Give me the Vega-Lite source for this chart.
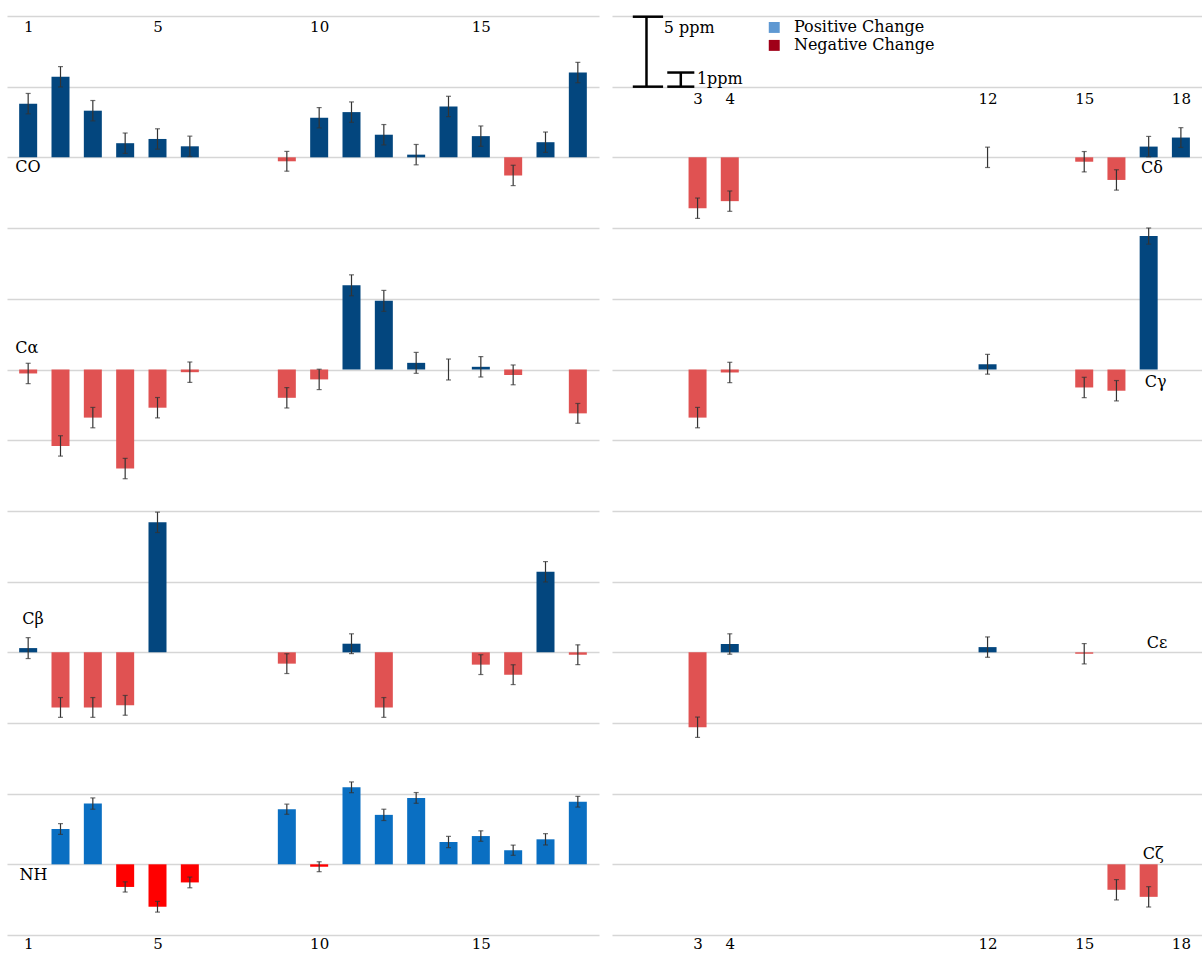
{
  "$schema": "https://vega.github.io/schema/vega-lite/v6.json",
  "background": "white",
  "padding": {"top": 15, "left": 7, "right": 0, "bottom": 0},
  "config": {"view": {"stroke": null}, "font": "DejaVu Serif",
    "axis": {"gridColor": "#d6d6d6", "gridWidth": 1.5, "domain": false, "ticks": false, "tickSize": 0, "labelFont": "DejaVu Serif", "labelFontSize": 15, "labelColor": "#000", "labelFlush": false}},
  "datasets": {
    "one": [{"n": 1}],
    "shifts": [
      {"atom": "CO", "residue": 1, "shift": 3.8, "err": 0.72},
      {"atom": "CO", "residue": 2, "shift": 5.7, "err": 0.72},
      {"atom": "CO", "residue": 3, "shift": 3.3, "err": 0.72},
      {"atom": "CO", "residue": 4, "shift": 1.0, "err": 0.72},
      {"atom": "CO", "residue": 5, "shift": 1.3, "err": 0.72},
      {"atom": "CO", "residue": 6, "shift": 0.78, "err": 0.72},
      {"atom": "CO", "residue": 9, "shift": -0.28, "err": 0.7},
      {"atom": "CO", "residue": 10, "shift": 2.8, "err": 0.72},
      {"atom": "CO", "residue": 11, "shift": 3.2, "err": 0.72},
      {"atom": "CO", "residue": 12, "shift": 1.6, "err": 0.72},
      {"atom": "CO", "residue": 13, "shift": 0.19, "err": 0.72},
      {"atom": "CO", "residue": 14, "shift": 3.6, "err": 0.72},
      {"atom": "CO", "residue": 15, "shift": 1.5, "err": 0.72},
      {"atom": "CO", "residue": 16, "shift": -1.28, "err": 0.72},
      {"atom": "CO", "residue": 17, "shift": 1.07, "err": 0.72},
      {"atom": "CO", "residue": 18, "shift": 6.0, "err": 0.72},
      {"atom": "CA", "residue": 1, "shift": -0.28, "err": 0.72},
      {"atom": "CA", "residue": 2, "shift": -5.4, "err": 0.72},
      {"atom": "CA", "residue": 3, "shift": -3.4, "err": 0.72},
      {"atom": "CA", "residue": 4, "shift": -7.0, "err": 0.72},
      {"atom": "CA", "residue": 5, "shift": -2.7, "err": 0.72},
      {"atom": "CA", "residue": 6, "shift": -0.19, "err": 0.72},
      {"atom": "CA", "residue": 9, "shift": -2.0, "err": 0.72},
      {"atom": "CA", "residue": 10, "shift": -0.7, "err": 0.72},
      {"atom": "CA", "residue": 11, "shift": 5.95, "err": 0.74},
      {"atom": "CA", "residue": 12, "shift": 4.85, "err": 0.74},
      {"atom": "CA", "residue": 13, "shift": 0.47, "err": 0.74},
      {"atom": "CA", "residue": 14, "shift": 0.0, "err": 0.74},
      {"atom": "CA", "residue": 15, "shift": 0.19, "err": 0.72},
      {"atom": "CA", "residue": 16, "shift": -0.38, "err": 0.7},
      {"atom": "CA", "residue": 18, "shift": -3.1, "err": 0.7},
      {"atom": "CB", "residue": 1, "shift": 0.3, "err": 0.74},
      {"atom": "CB", "residue": 2, "shift": -3.9, "err": 0.7},
      {"atom": "CB", "residue": 3, "shift": -3.9, "err": 0.7},
      {"atom": "CB", "residue": 4, "shift": -3.75, "err": 0.7},
      {"atom": "CB", "residue": 5, "shift": 9.2, "err": 0.72},
      {"atom": "CB", "residue": 9, "shift": -0.8, "err": 0.7},
      {"atom": "CB", "residue": 11, "shift": 0.61, "err": 0.7},
      {"atom": "CB", "residue": 12, "shift": -3.9, "err": 0.7},
      {"atom": "CB", "residue": 15, "shift": -0.87, "err": 0.7},
      {"atom": "CB", "residue": 16, "shift": -1.58, "err": 0.7},
      {"atom": "CB", "residue": 17, "shift": 5.7, "err": 0.72},
      {"atom": "CB", "residue": 18, "shift": -0.17, "err": 0.7},
      {"atom": "NH", "residue": 2, "shift": 2.5, "err": 0.38},
      {"atom": "NH", "residue": 3, "shift": 4.3, "err": 0.4},
      {"atom": "NH", "residue": 4, "shift": -1.6, "err": 0.36},
      {"atom": "NH", "residue": 5, "shift": -3.0, "err": 0.38},
      {"atom": "NH", "residue": 6, "shift": -1.28, "err": 0.38},
      {"atom": "NH", "residue": 9, "shift": 3.9, "err": 0.36},
      {"atom": "NH", "residue": 10, "shift": -0.17, "err": 0.35},
      {"atom": "NH", "residue": 11, "shift": 5.45, "err": 0.38},
      {"atom": "NH", "residue": 12, "shift": 3.5, "err": 0.4},
      {"atom": "NH", "residue": 13, "shift": 4.7, "err": 0.38},
      {"atom": "NH", "residue": 14, "shift": 1.58, "err": 0.4},
      {"atom": "NH", "residue": 15, "shift": 2.0, "err": 0.37},
      {"atom": "NH", "residue": 16, "shift": 1.0, "err": 0.36},
      {"atom": "NH", "residue": 17, "shift": 1.77, "err": 0.4},
      {"atom": "NH", "residue": 18, "shift": 4.43, "err": 0.38},
      {"atom": "CD", "residue": 3, "shift": -3.6, "err": 0.72},
      {"atom": "CD", "residue": 4, "shift": -3.1, "err": 0.72},
      {"atom": "CD", "residue": 12, "shift": 0.0, "err": 0.72},
      {"atom": "CD", "residue": 15, "shift": -0.31, "err": 0.72},
      {"atom": "CD", "residue": 16, "shift": -1.6, "err": 0.72},
      {"atom": "CD", "residue": 17, "shift": 0.76, "err": 0.72},
      {"atom": "CD", "residue": 18, "shift": 1.4, "err": 0.7},
      {"atom": "CG", "residue": 3, "shift": -3.4, "err": 0.72},
      {"atom": "CG", "residue": 4, "shift": -0.21, "err": 0.72},
      {"atom": "CG", "residue": 12, "shift": 0.37, "err": 0.7},
      {"atom": "CG", "residue": 15, "shift": -1.27, "err": 0.72},
      {"atom": "CG", "residue": 16, "shift": -1.5, "err": 0.72},
      {"atom": "CG", "residue": 17, "shift": 9.43, "err": 0.57},
      {"atom": "CE", "residue": 3, "shift": -5.3, "err": 0.72},
      {"atom": "CE", "residue": 4, "shift": 0.59, "err": 0.72},
      {"atom": "CE", "residue": 12, "shift": 0.37, "err": 0.72},
      {"atom": "CE", "residue": 15, "shift": -0.1, "err": 0.72},
      {"atom": "CZ", "residue": 16, "shift": -1.8, "err": 0.72},
      {"atom": "CZ", "residue": 17, "shift": -2.3, "err": 0.72}
    ]
  },
  "columns": 2,
  "bounds": "flush",
  "spacing": {"row": 0, "column": 13},
  "concat": [
    {
      "width": 592, "height": 212,
      "layer": [
        {"data": {"name": "shifts"}, "transform": [{"filter": "datum.atom === 'CO'"}], "mark": {"type": "bar", "width": 18},
          "encoding": {
            "x": {"field": "residue", "type": "quantitative", "title": null, "scale": {"domain": [0.5, 18.5], "nice": false, "zero": false},
              "axis": {"orient": "top", "values": [1, 5, 10, 15], "grid": false, "labelPadding": -10, "labelBaseline": "middle"}},
            "y": {"field": "shift", "type": "quantitative", "title": null, "scale": {"domain": [-5, 10], "nice": false}, "axis": {"values": [-5, 0, 5, 10], "grid": true, "labels": false}},
            "color": {"condition": {"test": "datum.shift < 0", "value": "#e05252"}, "value": "#03467e"}}},
        {"data": {"name": "shifts"}, "transform": [{"filter": "datum.atom === 'CO'"}], "mark": {"type": "errorbar", "ticks": {"size": 5}, "color": "#333", "thickness": 1.2},
          "encoding": {"x": {"field": "residue", "type": "quantitative", "title": null}, "y": {"field": "shift", "type": "quantitative", "title": null}, "yError": {"field": "err"}}},
        {"data": {"name": "one"}, "mark": {"type": "text", "text": "CO", "align": "left", "baseline": "middle", "fontSize": 16, "color": "#000"},
          "encoding": {"x": {"datum": 0.6}, "y": {"datum": -0.7}}}
      ]
    },
    {
      "width": 590, "height": 212,
      "layer": [
        {"data": {"name": "shifts"}, "transform": [{"filter": "datum.atom === 'CD'"}], "mark": {"type": "bar", "width": 18},
          "encoding": {
            "x": {"field": "residue", "type": "quantitative", "title": null, "scale": {"domain": [0.5, 18.5], "nice": false, "zero": false},
              "axis": {"orient": "top", "values": [3, 4, 12, 15, 18], "grid": false, "labelPadding": -82, "labelBaseline": "middle"}},
            "y": {"field": "shift", "type": "quantitative", "title": null, "scale": {"domain": [-5, 10], "nice": false}, "axis": {"values": [-5, 0, 5, 10], "grid": true, "labels": false}},
            "color": {"condition": {"test": "datum.shift < 0", "value": "#e05252"}, "value": "#03467e"}}},
        {"data": {"name": "shifts"}, "transform": [{"filter": "datum.atom === 'CD'"}], "mark": {"type": "errorbar", "ticks": {"size": 5}, "color": "#333", "thickness": 1.2},
          "encoding": {"x": {"field": "residue", "type": "quantitative", "title": null}, "y": {"field": "shift", "type": "quantitative", "title": null}, "yError": {"field": "err"}}},
        {"data": {"name": "one"}, "mark": {"type": "text", "text": "Cδ", "align": "left", "baseline": "middle", "fontSize": 16, "color": "#000"},
          "encoding": {"x": {"datum": 16.76}, "y": {"datum": -0.78}}},
        {"data": {"name": "one"}, "mark": {"type": "rule", "color": "#000", "strokeWidth": 2.5},
          "encoding": {"x": {"datum": 1.415}, "y": {"datum": 5}, "y2": {"datum": 9.95}}},
        {"data": {"name": "one"}, "mark": {"type": "rule", "color": "#000", "strokeWidth": 2.5},
          "encoding": {"x": {"datum": 0.99}, "x2": {"datum": 1.93}, "y": {"datum": 9.95}}},
        {"data": {"name": "one"}, "mark": {"type": "rule", "color": "#000", "strokeWidth": 2.5},
          "encoding": {"x": {"datum": 0.99}, "x2": {"datum": 1.93}, "y": {"datum": 5}}},
        {"data": {"name": "one"}, "mark": {"type": "rule", "color": "#000", "strokeWidth": 2.5},
          "encoding": {"x": {"datum": 2.48}, "y": {"datum": 5}, "y2": {"datum": 6}}},
        {"data": {"name": "one"}, "mark": {"type": "rule", "color": "#000", "strokeWidth": 2.5},
          "encoding": {"x": {"datum": 2.06}, "x2": {"datum": 2.9}, "y": {"datum": 6}}},
        {"data": {"name": "one"}, "mark": {"type": "rule", "color": "#000", "strokeWidth": 2.5},
          "encoding": {"x": {"datum": 2.06}, "x2": {"datum": 2.9}, "y": {"datum": 5}}},
        {"data": {"name": "one"}, "mark": {"type": "text", "text": "5 ppm", "align": "left", "baseline": "middle", "fontSize": 16, "color": "#000"},
          "encoding": {"x": {"datum": 1.95}, "y": {"datum": 9.12}}},
        {"data": {"name": "one"}, "mark": {"type": "text", "text": "1ppm", "align": "left", "baseline": "middle", "fontSize": 16, "color": "#000"},
          "encoding": {"x": {"datum": 2.98}, "y": {"datum": 5.55}}},
        {"data": {"name": "one"}, "mark": {"type": "point", "shape": "square", "filled": true, "size": 120, "color": "#5e98d2", "opacity": 1},
          "encoding": {"x": {"datum": 5.38}, "y": {"datum": 9.19}}},
        {"data": {"name": "one"}, "mark": {"type": "point", "shape": "square", "filled": true, "size": 120, "color": "#a00018", "opacity": 1},
          "encoding": {"x": {"datum": 5.38}, "y": {"datum": 7.92}}},
        {"data": {"name": "one"}, "mark": {"type": "text", "text": "Positive Change", "align": "left", "baseline": "middle", "fontSize": 16, "color": "#000"},
          "encoding": {"x": {"datum": 5.99}, "y": {"datum": 9.19}}},
        {"data": {"name": "one"}, "mark": {"type": "text", "text": "Negative Change", "align": "left", "baseline": "middle", "fontSize": 16, "color": "#000"},
          "encoding": {"x": {"datum": 5.99}, "y": {"datum": 7.92}}}
      ]
    },
    {
      "width": 592, "height": 283,
      "layer": [
        {"data": {"name": "shifts"}, "transform": [{"filter": "datum.atom === 'CA'"}], "mark": {"type": "bar", "width": 18},
          "encoding": {
            "x": {"field": "residue", "type": "quantitative", "title": null, "scale": {"domain": [0.5, 18.5], "nice": false, "zero": false}, "axis": null},
            "y": {"field": "shift", "type": "quantitative", "title": null, "scale": {"domain": [-10, 10], "nice": false}, "axis": {"values": [-10, -5, 0, 5], "grid": true, "labels": false}},
            "color": {"condition": {"test": "datum.shift < 0", "value": "#e05252"}, "value": "#03467e"}}},
        {"data": {"name": "shifts"}, "transform": [{"filter": "datum.atom === 'CA'"}], "mark": {"type": "errorbar", "ticks": {"size": 5}, "color": "#333", "thickness": 1.2},
          "encoding": {"x": {"field": "residue", "type": "quantitative", "title": null}, "y": {"field": "shift", "type": "quantitative", "title": null}, "yError": {"field": "err"}}},
        {"data": {"name": "one"}, "mark": {"type": "text", "text": "Cα", "align": "left", "baseline": "middle", "fontSize": 16, "color": "#000"},
          "encoding": {"x": {"datum": 0.6}, "y": {"datum": 1.5}}}
      ]
    },
    {
      "width": 590, "height": 283,
      "layer": [
        {"data": {"name": "shifts"}, "transform": [{"filter": "datum.atom === 'CG'"}], "mark": {"type": "bar", "width": 18},
          "encoding": {
            "x": {"field": "residue", "type": "quantitative", "title": null, "scale": {"domain": [0.5, 18.5], "nice": false, "zero": false}, "axis": null},
            "y": {"field": "shift", "type": "quantitative", "title": null, "scale": {"domain": [-10, 10], "nice": false}, "axis": {"values": [-10, -5, 0, 5], "grid": true, "labels": false}},
            "color": {"condition": {"test": "datum.shift < 0", "value": "#e05252"}, "value": "#03467e"}}},
        {"data": {"name": "shifts"}, "transform": [{"filter": "datum.atom === 'CG'"}], "mark": {"type": "errorbar", "ticks": {"size": 5}, "color": "#333", "thickness": 1.2},
          "encoding": {"x": {"field": "residue", "type": "quantitative", "title": null}, "y": {"field": "shift", "type": "quantitative", "title": null}, "yError": {"field": "err"}}},
        {"data": {"name": "one"}, "mark": {"type": "text", "text": "Cγ", "align": "left", "baseline": "middle", "fontSize": 16, "color": "#000"},
          "encoding": {"x": {"datum": 16.88}, "y": {"datum": -0.85}}}
      ]
    },
    {
      "width": 592, "height": 212,
      "layer": [
        {"data": {"name": "shifts"}, "transform": [{"filter": "datum.atom === 'CB'"}], "mark": {"type": "bar", "width": 18},
          "encoding": {
            "x": {"field": "residue", "type": "quantitative", "title": null, "scale": {"domain": [0.5, 18.5], "nice": false, "zero": false}, "axis": null},
            "y": {"field": "shift", "type": "quantitative", "title": null, "scale": {"domain": [-5, 10], "nice": false}, "axis": {"values": [-5, 0, 5], "grid": true, "labels": false}},
            "color": {"condition": {"test": "datum.shift < 0", "value": "#e05252"}, "value": "#03467e"}}},
        {"data": {"name": "shifts"}, "transform": [{"filter": "datum.atom === 'CB'"}], "mark": {"type": "errorbar", "ticks": {"size": 5}, "color": "#333", "thickness": 1.2},
          "encoding": {"x": {"field": "residue", "type": "quantitative", "title": null}, "y": {"field": "shift", "type": "quantitative", "title": null}, "yError": {"field": "err"}}},
        {"data": {"name": "one"}, "mark": {"type": "text", "text": "Cβ", "align": "left", "baseline": "middle", "fontSize": 16, "color": "#000"},
          "encoding": {"x": {"datum": 0.82}, "y": {"datum": 2.33}}}
      ]
    },
    {
      "width": 590, "height": 212,
      "layer": [
        {"data": {"name": "shifts"}, "transform": [{"filter": "datum.atom === 'CE'"}], "mark": {"type": "bar", "width": 18},
          "encoding": {
            "x": {"field": "residue", "type": "quantitative", "title": null, "scale": {"domain": [0.5, 18.5], "nice": false, "zero": false}, "axis": null},
            "y": {"field": "shift", "type": "quantitative", "title": null, "scale": {"domain": [-5, 10], "nice": false}, "axis": {"values": [-5, 0, 5], "grid": true, "labels": false}},
            "color": {"condition": {"test": "datum.shift < 0", "value": "#e05252"}, "value": "#03467e"}}},
        {"data": {"name": "shifts"}, "transform": [{"filter": "datum.atom === 'CE'"}], "mark": {"type": "errorbar", "ticks": {"size": 5}, "color": "#333", "thickness": 1.2},
          "encoding": {"x": {"field": "residue", "type": "quantitative", "title": null}, "y": {"field": "shift", "type": "quantitative", "title": null}, "yError": {"field": "err"}}},
        {"data": {"name": "one"}, "mark": {"type": "text", "text": "Cε", "align": "left", "baseline": "middle", "fontSize": 16, "color": "#000"},
          "encoding": {"x": {"datum": 16.94}, "y": {"datum": 0.64}}}
      ]
    },
    {
      "width": 592, "height": 212,
      "layer": [
        {"data": {"name": "shifts"}, "transform": [{"filter": "datum.atom === 'NH'"}], "mark": {"type": "bar", "width": 18},
          "encoding": {
            "x": {"field": "residue", "type": "quantitative", "title": null, "scale": {"domain": [0.5, 18.5], "nice": false, "zero": false},
              "axis": {"orient": "bottom", "values": [1, 5, 10, 15], "grid": false, "labelPadding": 1}},
            "y": {"field": "shift", "type": "quantitative", "title": null, "scale": {"domain": [-5, 10], "nice": false}, "axis": {"values": [-5, 0, 5], "grid": true, "labels": false}},
            "color": {"condition": {"test": "datum.shift < 0", "value": "#ff0000"}, "value": "#0a6fc2"}}},
        {"data": {"name": "shifts"}, "transform": [{"filter": "datum.atom === 'NH'"}], "mark": {"type": "errorbar", "ticks": {"size": 5}, "color": "#333", "thickness": 1.2},
          "encoding": {"x": {"field": "residue", "type": "quantitative", "title": null}, "y": {"field": "shift", "type": "quantitative", "title": null}, "yError": {"field": "err"}}},
        {"data": {"name": "one"}, "mark": {"type": "text", "text": "NH", "align": "left", "baseline": "middle", "fontSize": 16, "color": "#000"},
          "encoding": {"x": {"datum": 0.73}, "y": {"datum": -0.78}}}
      ]
    },
    {
      "width": 590, "height": 212,
      "layer": [
        {"data": {"name": "shifts"}, "transform": [{"filter": "datum.atom === 'CZ'"}], "mark": {"type": "bar", "width": 18},
          "encoding": {
            "x": {"field": "residue", "type": "quantitative", "title": null, "scale": {"domain": [0.5, 18.5], "nice": false, "zero": false},
              "axis": {"orient": "bottom", "values": [3, 4, 12, 15, 18], "grid": false, "labelPadding": 1}},
            "y": {"field": "shift", "type": "quantitative", "title": null, "scale": {"domain": [-5, 10], "nice": false}, "axis": {"values": [-5, 0, 5], "grid": true, "labels": false}},
            "color": {"condition": {"test": "datum.shift < 0", "value": "#e05252"}, "value": "#03467e"}}},
        {"data": {"name": "shifts"}, "transform": [{"filter": "datum.atom === 'CZ'"}], "mark": {"type": "errorbar", "ticks": {"size": 5}, "color": "#333", "thickness": 1.2},
          "encoding": {"x": {"field": "residue", "type": "quantitative", "title": null}, "y": {"field": "shift", "type": "quantitative", "title": null}, "yError": {"field": "err"}}},
        {"data": {"name": "one"}, "mark": {"type": "text", "text": "Cζ", "align": "left", "baseline": "middle", "fontSize": 16, "color": "#000"},
          "encoding": {"x": {"datum": 16.82}, "y": {"datum": 0.7}}}
      ]
    }
  ]
}
